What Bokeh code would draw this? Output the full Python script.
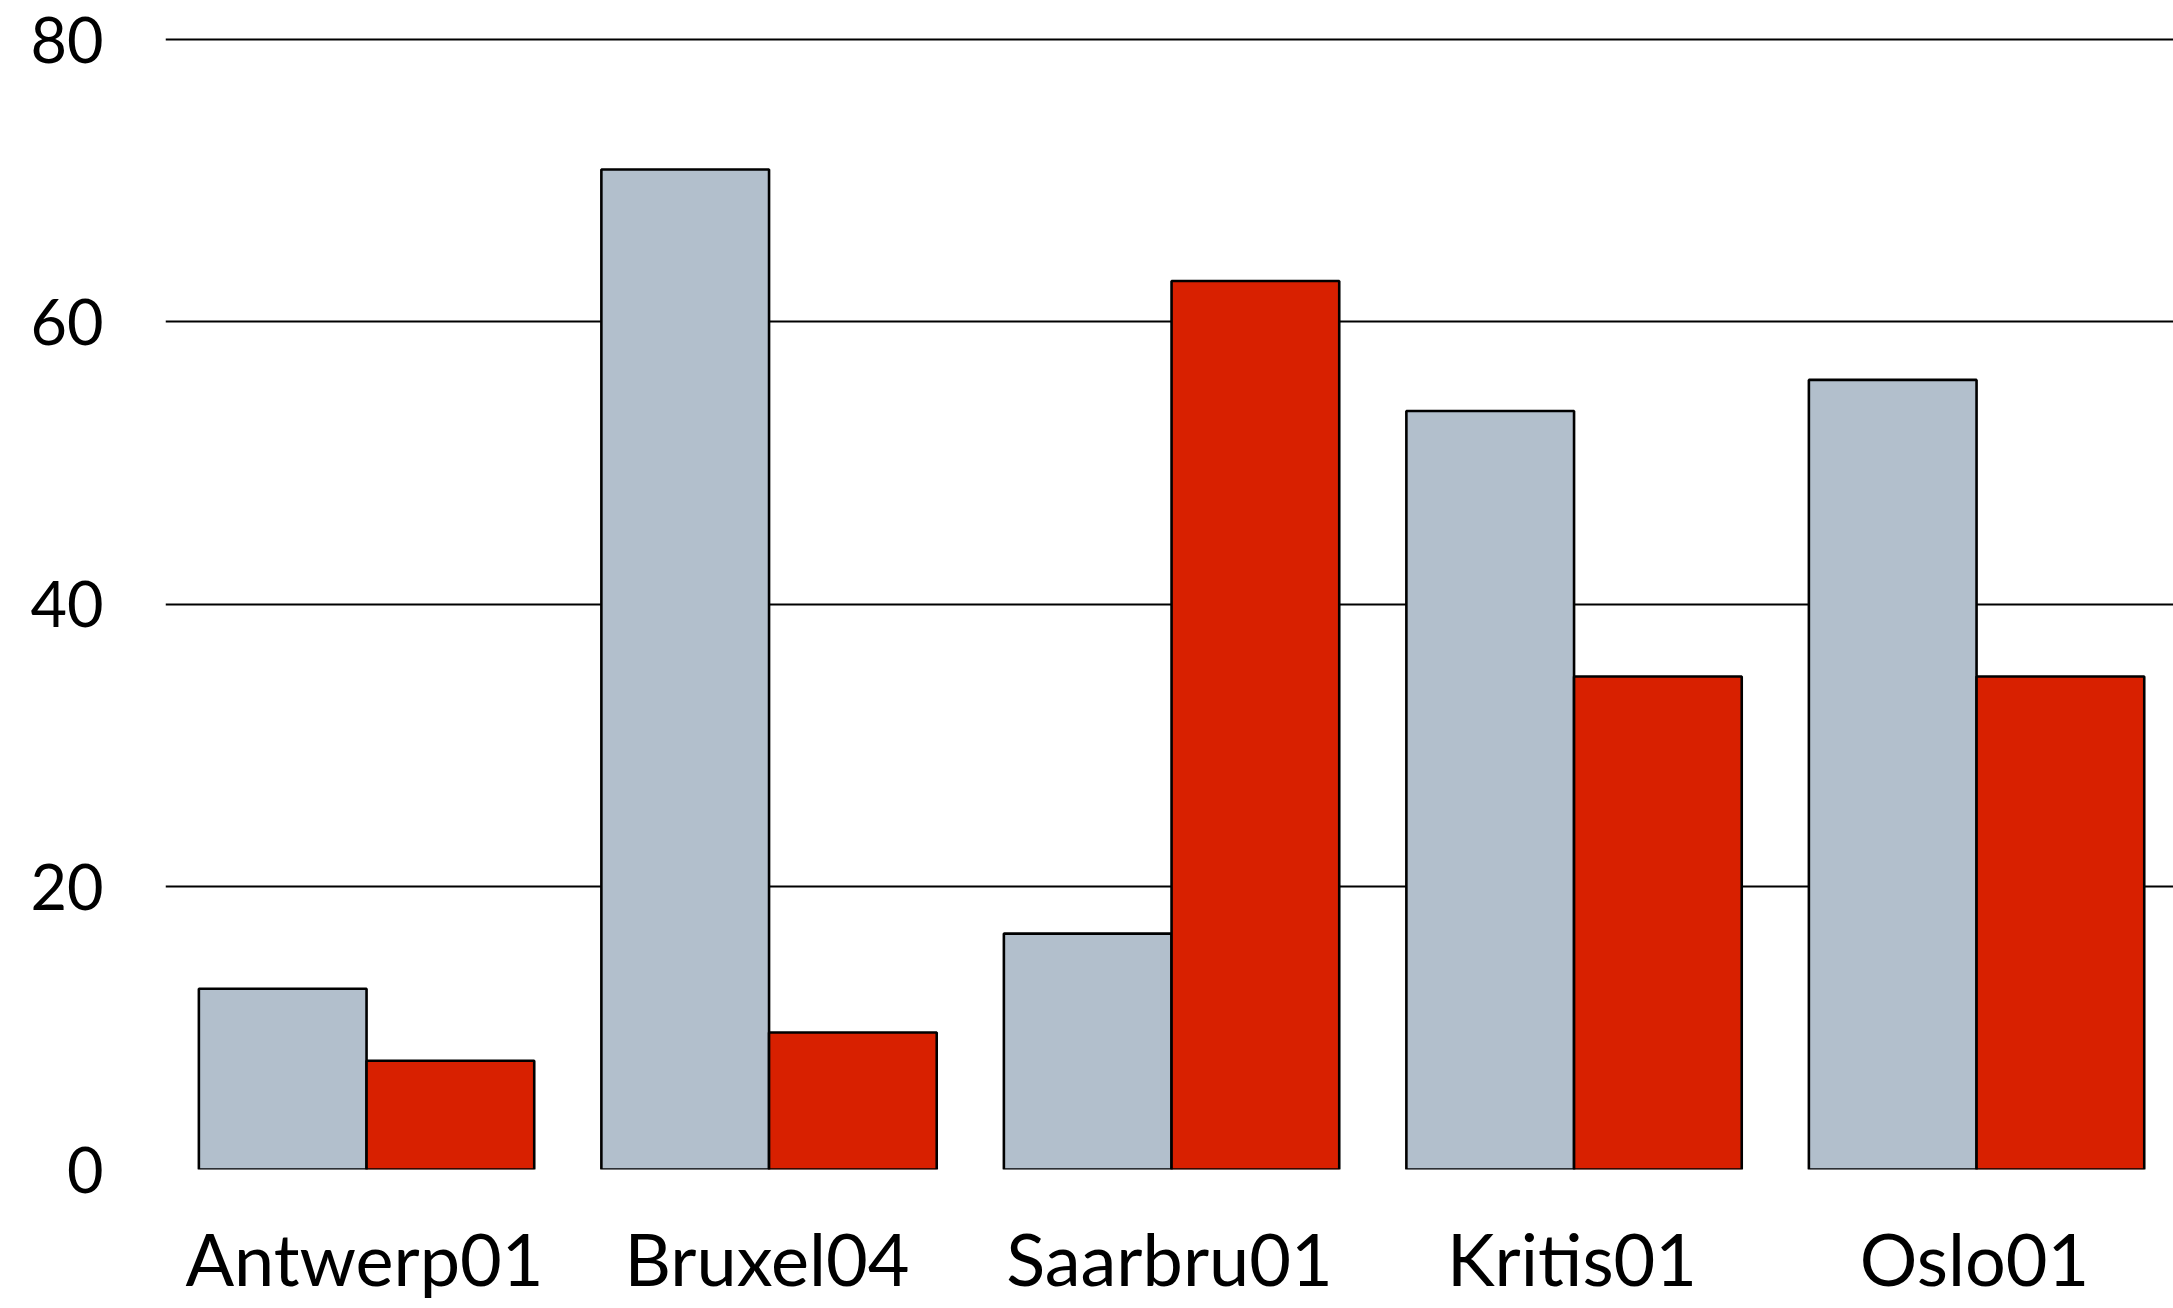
from bokeh.plotting import figure
from bokeh.models import ColumnDataSource, FactorRange, Range1d, FixedTicker
from bokeh.transform import dodge
from bokeh.embed import file_html
from bokeh.resources import INLINE

categories = ["Antwerp01", "Bruxel04", "Saarbru01", "Kritis01", "Oslo01"]
series_a = [12.8, 70.8, 16.7, 53.7, 55.9]
series_b = [7.7, 9.7, 62.9, 34.9, 34.9]
y_ticks = [0, 20, 40, 60, 80]

source = ColumnDataSource(data=dict(cat=categories, a=series_a, b=series_b))

FONT = "Lato"

p = figure(
    x_range=FactorRange(factors=categories, range_padding=-0.0056, range_padding_units="absolute"),
    y_range=Range1d(0, 82.76),
    width=2173, height=1308,
    output_backend="svg", toolbar_location=None,
    min_border_left=165, min_border_right=0, min_border_top=0, min_border_bottom=139,
)

bw = 0.4166
shift = 0.0051
p.vbar(x=dodge("cat", -bw / 2 + shift, range=p.x_range), top="a", bottom=0, width=bw, source=source,
       fill_color="#b2bfcc", line_color="#000000", line_width=2.6)
p.vbar(x=dodge("cat", bw / 2 + shift, range=p.x_range), top="b", bottom=0, width=bw, source=source,
       fill_color="#d82000", line_color="#000000", line_width=2.6)

p.outline_line_color = None
p.background_fill_color = "white"
p.border_fill_color = "white"

p.xgrid.grid_line_color = None
p.ygrid.grid_line_color = "#000000"
p.ygrid.grid_line_width = 2
p.ygrid.ticker = FixedTicker(ticks=y_ticks)

p.yaxis.ticker = FixedTicker(ticks=y_ticks)
for ax in (p.xaxis[0], p.yaxis[0]):
    ax.axis_line_color = None
    ax.major_tick_line_color = None
    ax.minor_tick_line_color = None
    ax.major_label_text_font = FONT
    ax.major_label_text_color = "#000000"

p.xaxis.major_label_text_font_size = "72px"
p.yaxis.major_label_text_font_size = "63px"
p.yaxis.major_label_standoff = 56
p.xaxis.major_label_standoff = 39

open("out.html", "w").write(file_html(p, INLINE))
